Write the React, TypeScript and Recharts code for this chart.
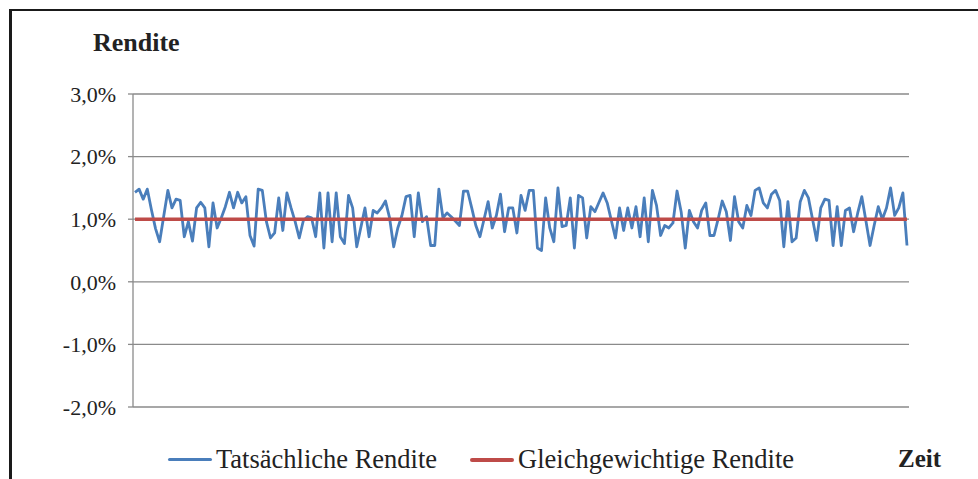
import { LineChart, Line, XAxis, YAxis, CartesianGrid } from "recharts";

// Tatsächliche Rendite in %
const actual = [
  1.43, 1.48, 1.32, 1.48, 1.15, 0.85, 0.64, 1.05, 1.46, 1.18, 1.32, 1.3, 0.72, 0.96, 0.65, 1.18,
  1.27, 1.18, 0.56, 1.26, 0.86, 1.02, 1.2, 1.43, 1.18, 1.43, 1.26, 1.36, 0.74, 0.57, 1.48, 1.46,
  0.96, 0.7, 0.78, 1.34, 0.82, 1.42, 1.18, 0.96, 0.7, 0.98, 1.04, 1.02, 0.72, 1.42, 0.54, 1.42,
  0.64, 1.42, 0.72, 0.61, 1.38, 1.18, 0.56, 0.87, 1.18, 0.72, 1.14, 1.1, 1.18, 1.29, 1.02, 0.56,
  0.86, 1.06, 1.36, 1.38, 0.72, 1.42, 0.96, 1.04, 0.58, 0.58, 1.48, 1.02, 1.1, 1.04, 0.97, 0.9,
  1.45, 1.45, 1.18, 0.9, 0.72, 1.0, 1.28, 0.86, 1.06, 1.4, 0.8, 1.18, 1.18, 0.78, 1.38, 1.14,
  1.46, 1.46, 0.54, 0.5, 1.34, 0.86, 0.64, 1.5, 0.88, 0.9, 1.34, 0.54, 1.38, 1.34, 0.7, 1.2,
  1.12, 1.27, 1.42, 1.26, 0.98, 0.7, 1.18, 0.82, 1.18, 0.86, 1.2, 0.72, 1.34, 0.64, 1.46, 1.22,
  0.74, 0.9, 0.86, 0.94, 1.45, 1.12, 0.54, 1.14, 0.96, 0.86, 1.14, 1.26, 0.74, 0.74, 1.0, 1.29,
  1.12, 0.66, 1.36, 0.96, 0.86, 1.22, 1.06, 1.46, 1.5, 1.26, 1.18, 1.4, 1.46, 1.3, 0.56, 1.28,
  0.64, 0.7, 1.28, 1.46, 1.34, 1.0, 0.66, 1.18, 1.32, 1.3, 0.58, 1.2, 0.58, 1.14, 1.18, 0.8,
  1.1, 1.36, 0.97, 0.58, 0.9, 1.2, 1.0, 1.18, 1.5, 1.06, 1.18, 1.42, 0.58,
];

// Gleichgewichtige Rendite in %
const equilibrium = 1.0;

const yTicks = [-2, -1, 0, 1, 2, 3];

const series = [
  { key: "actual", name: "Tatsächliche Rendite", color: "#4a7ebb", width: 2.8 },
  { key: "eq", name: "Gleichgewichtige Rendite", color: "#be4b48", width: 3.6 },
];

const data = actual.map((v, i) => ({ t: i + 1, actual: v, eq: equilibrium }));

const serif = "'Liberation Serif', 'Times New Roman', serif";

const fmt = (v: number) => v.toFixed(1).replace(".", ",") + "%";

export default function App() {
  return (
    <div
      style={{
        position: "relative",
        width: 978,
        height: 479,
        overflow: "hidden",
        background: "#fff",
        fontFamily: serif,
        color: "#222",
      }}
    >
      <style>{"body{margin:0} .recharts-text{font-family:'Liberation Serif','Times New Roman',serif}"}</style>
      {/* Rahmen */}
      <div
        style={{
          position: "absolute",
          left: 9,
          top: 9,
          width: 990,
          height: 500,
          borderLeft: "3px solid #1a1a1a",
          borderTop: "2px solid #1a1a1a",
        }}
      />
      <div style={{ position: "absolute", left: 0, top: 0 }}>
        <LineChart width={978} height={479} data={data} margin={{ top: 94, right: 69, bottom: 72, left: 0 }}>
          <CartesianGrid vertical={false} stroke="#8a8a8a" strokeWidth={1.3} />
          <XAxis dataKey="t" hide padding={{ left: 2, right: 2 }} />
          <YAxis
            domain={[-2, 3]}
            ticks={yTicks}
            width={133}
            tickSize={5}
            tickMargin={12}
            tickFormatter={fmt}
            axisLine={{ stroke: "#8a8a8a", strokeWidth: 1.3 }}
            tickLine={{ stroke: "#8a8a8a", strokeWidth: 1.3 }}
            tick={{ fill: "#222", fontSize: 22, fontFamily: serif }}
          />
          {series.map((s) => (
            <Line
              key={s.key}
              type="linear"
              dataKey={s.key}
              name={s.name}
              stroke={s.color}
              strokeWidth={s.width}
              strokeLinejoin="round"
              dot={false}
              activeDot={false}
              isAnimationActive={false}
            />
          ))}
        </LineChart>
      </div>
      <div style={{ position: "absolute", left: 93, top: 28, fontSize: 26, fontWeight: "bold" }}>Rendite</div>
      {/* Legende */}
      <div style={{ position: "absolute", left: 168, top: 444, display: "flex", alignItems: "center", fontSize: 26.5 }}>
        {series.map((s, i) => (
          <div key={s.key} style={{ display: "flex", alignItems: "center", marginRight: 33 }}>
            <span
              style={{
                display: "inline-block",
                width: 44,
                height: i === 0 ? 3 : 4,
                background: s.color,
                borderRadius: 2,
                marginRight: 4,
              }}
            />
            <span>{s.name}</span>
          </div>
        ))}
      </div>
      <div style={{ position: "absolute", left: 898, top: 445, fontSize: 25, fontWeight: "bold" }}>Zeit</div>
    </div>
  );
}
